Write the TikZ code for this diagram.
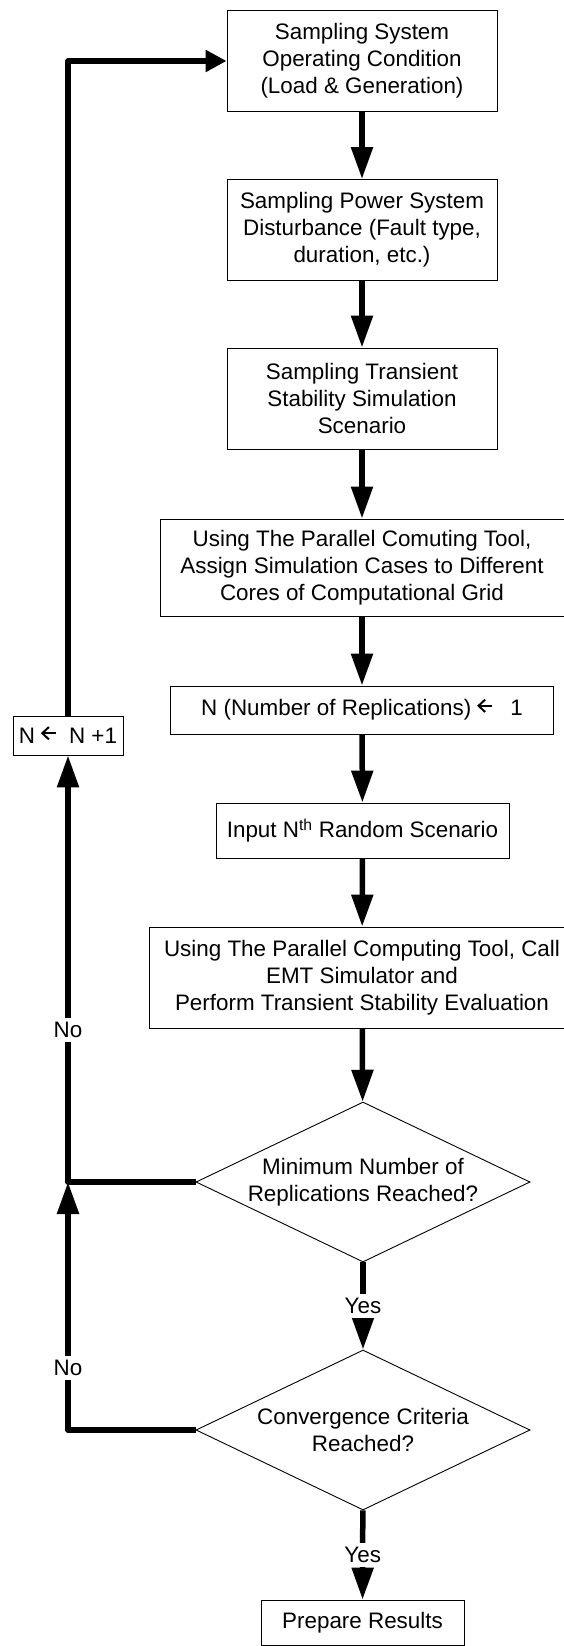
\documentclass[tikz,border=0pt]{standalone}
\usepackage{fontspec}
\setmainfont{Liberation Sans}
\usetikzlibrary{arrows.meta,shapes.geometric,calc}
% left arrow used in the assignment texts
\newcommand{\larr}{\tikz[x=1pt,y=1pt,baseline=0pt,line width=2pt]{%
  \useasboundingbox (0,0) rectangle (15,0);
  \draw (15,10) -- (1.2,10);
  \draw[line join=miter,miter limit=10] (7.8,16.2) -- (1.2,10) -- (7.8,3.8);}}

\begin{document}
\begin{tikzpicture}[x=1pt,y=-1pt,
  every node/.style={font=\fontsize{22.4}{27}\selectfont},
  stepbox/.style={draw,line width=0.9pt,align=center,inner sep=0pt},
  decision/.style={draw,diamond,line width=0.9pt,align=center,inner sep=0pt,
    minimum width=334pt,minimum height=160pt,shape aspect=2.09},
  flow/.style={line width=5.5pt,line join=round,-{Triangle[length=32pt,width=21pt]}},
  feed/.style={line width=5.5pt,line join=round,-{Triangle[length=21pt,width=21pt]}},
  lbl/.style={fill=white,inner sep=4pt}]

\useasboundingbox (0,0) rectangle (564,1646);
\clip (0,0) rectangle (564,1646);
\fill[white] (0,0) rectangle (564,1646);

% process steps
\node[stepbox,minimum width=270pt,minimum height=100.6pt] (b1) at (362,61)
  {Sampling System\\Operating Condition\\(Load \& Generation)};
\node[stepbox,minimum width=270pt,minimum height=101pt] (b2) at (362,230)
  {Sampling Power System\\Disturbance (Fault type,\\duration, etc.)};
\node[stepbox,minimum width=270pt,minimum height=101pt] (b3) at (362,398.5)
  {Sampling Transient\\Stability Simulation\\Scenario};
\node[stepbox,minimum width=404pt,minimum height=97pt] (b4) at (362,567.5)
  {Using The Parallel Comuting Tool,\\Assign Simulation Cases to Different\\Cores of Computational Grid};
\node[stepbox,minimum width=383.5pt,minimum height=48pt] (b5) at (362,710)
  {N (Number of Replications)\hspace{6pt}\larr\hspace{18pt}1};
\node[stepbox,minimum width=293pt,minimum height=55pt] (b6) at (362.5,830.5)
  {Input N\textsuperscript{th} Random Scenario};
\node[stepbox,minimum width=426pt,minimum height=101pt] (b7) at (362,977.5)
  {Using The Parallel Computing Tool, Call\\EMT Simulator and\\Perform Transient Stability Evaluation};
\node[decision] (d1) at (363,1182) {Minimum Number of\\Replications Reached?};
\node[decision] (d2) at (363,1430) {Convergence Criteria\\Reached?};
\node[stepbox,minimum width=203pt,minimum height=45pt] (b8) at (362.5,1622.5)
  {Prepare Results};

% counter update on the return branch
\node[stepbox,minimum width=110pt,minimum height=39pt] (nn) at (68,735.5)
  {N\hspace{6pt}\larr\hspace{13pt}N +1};

% main sequence
\draw[flow] (b1) -- (b2);
\draw[flow] (b2) -- (b3);
\draw[flow] (b3) -- (b4);
\draw[flow] (b4) -- (b5);
\draw[flow] (b5) -- (b6);
\draw[flow] (b6) -- (b7);
\draw[flow] (b7) -- (d1);
\draw[flow] (d1) -- node[lbl] {Yes} (d2);
\draw[flow] (d2) -- node[lbl] {Yes} (b8);

% return branches
\coordinate (j) at (nn.south |- d1.west);
\draw[flow] (d1.west) -| node[lbl,pos=0.678] {No} (nn.south);
\draw[flow] (d2.west) -| node[lbl,pos=0.625] {No} (j);
\draw[feed] (nn.north) |- (b1.west);
\end{tikzpicture}
\end{document}
